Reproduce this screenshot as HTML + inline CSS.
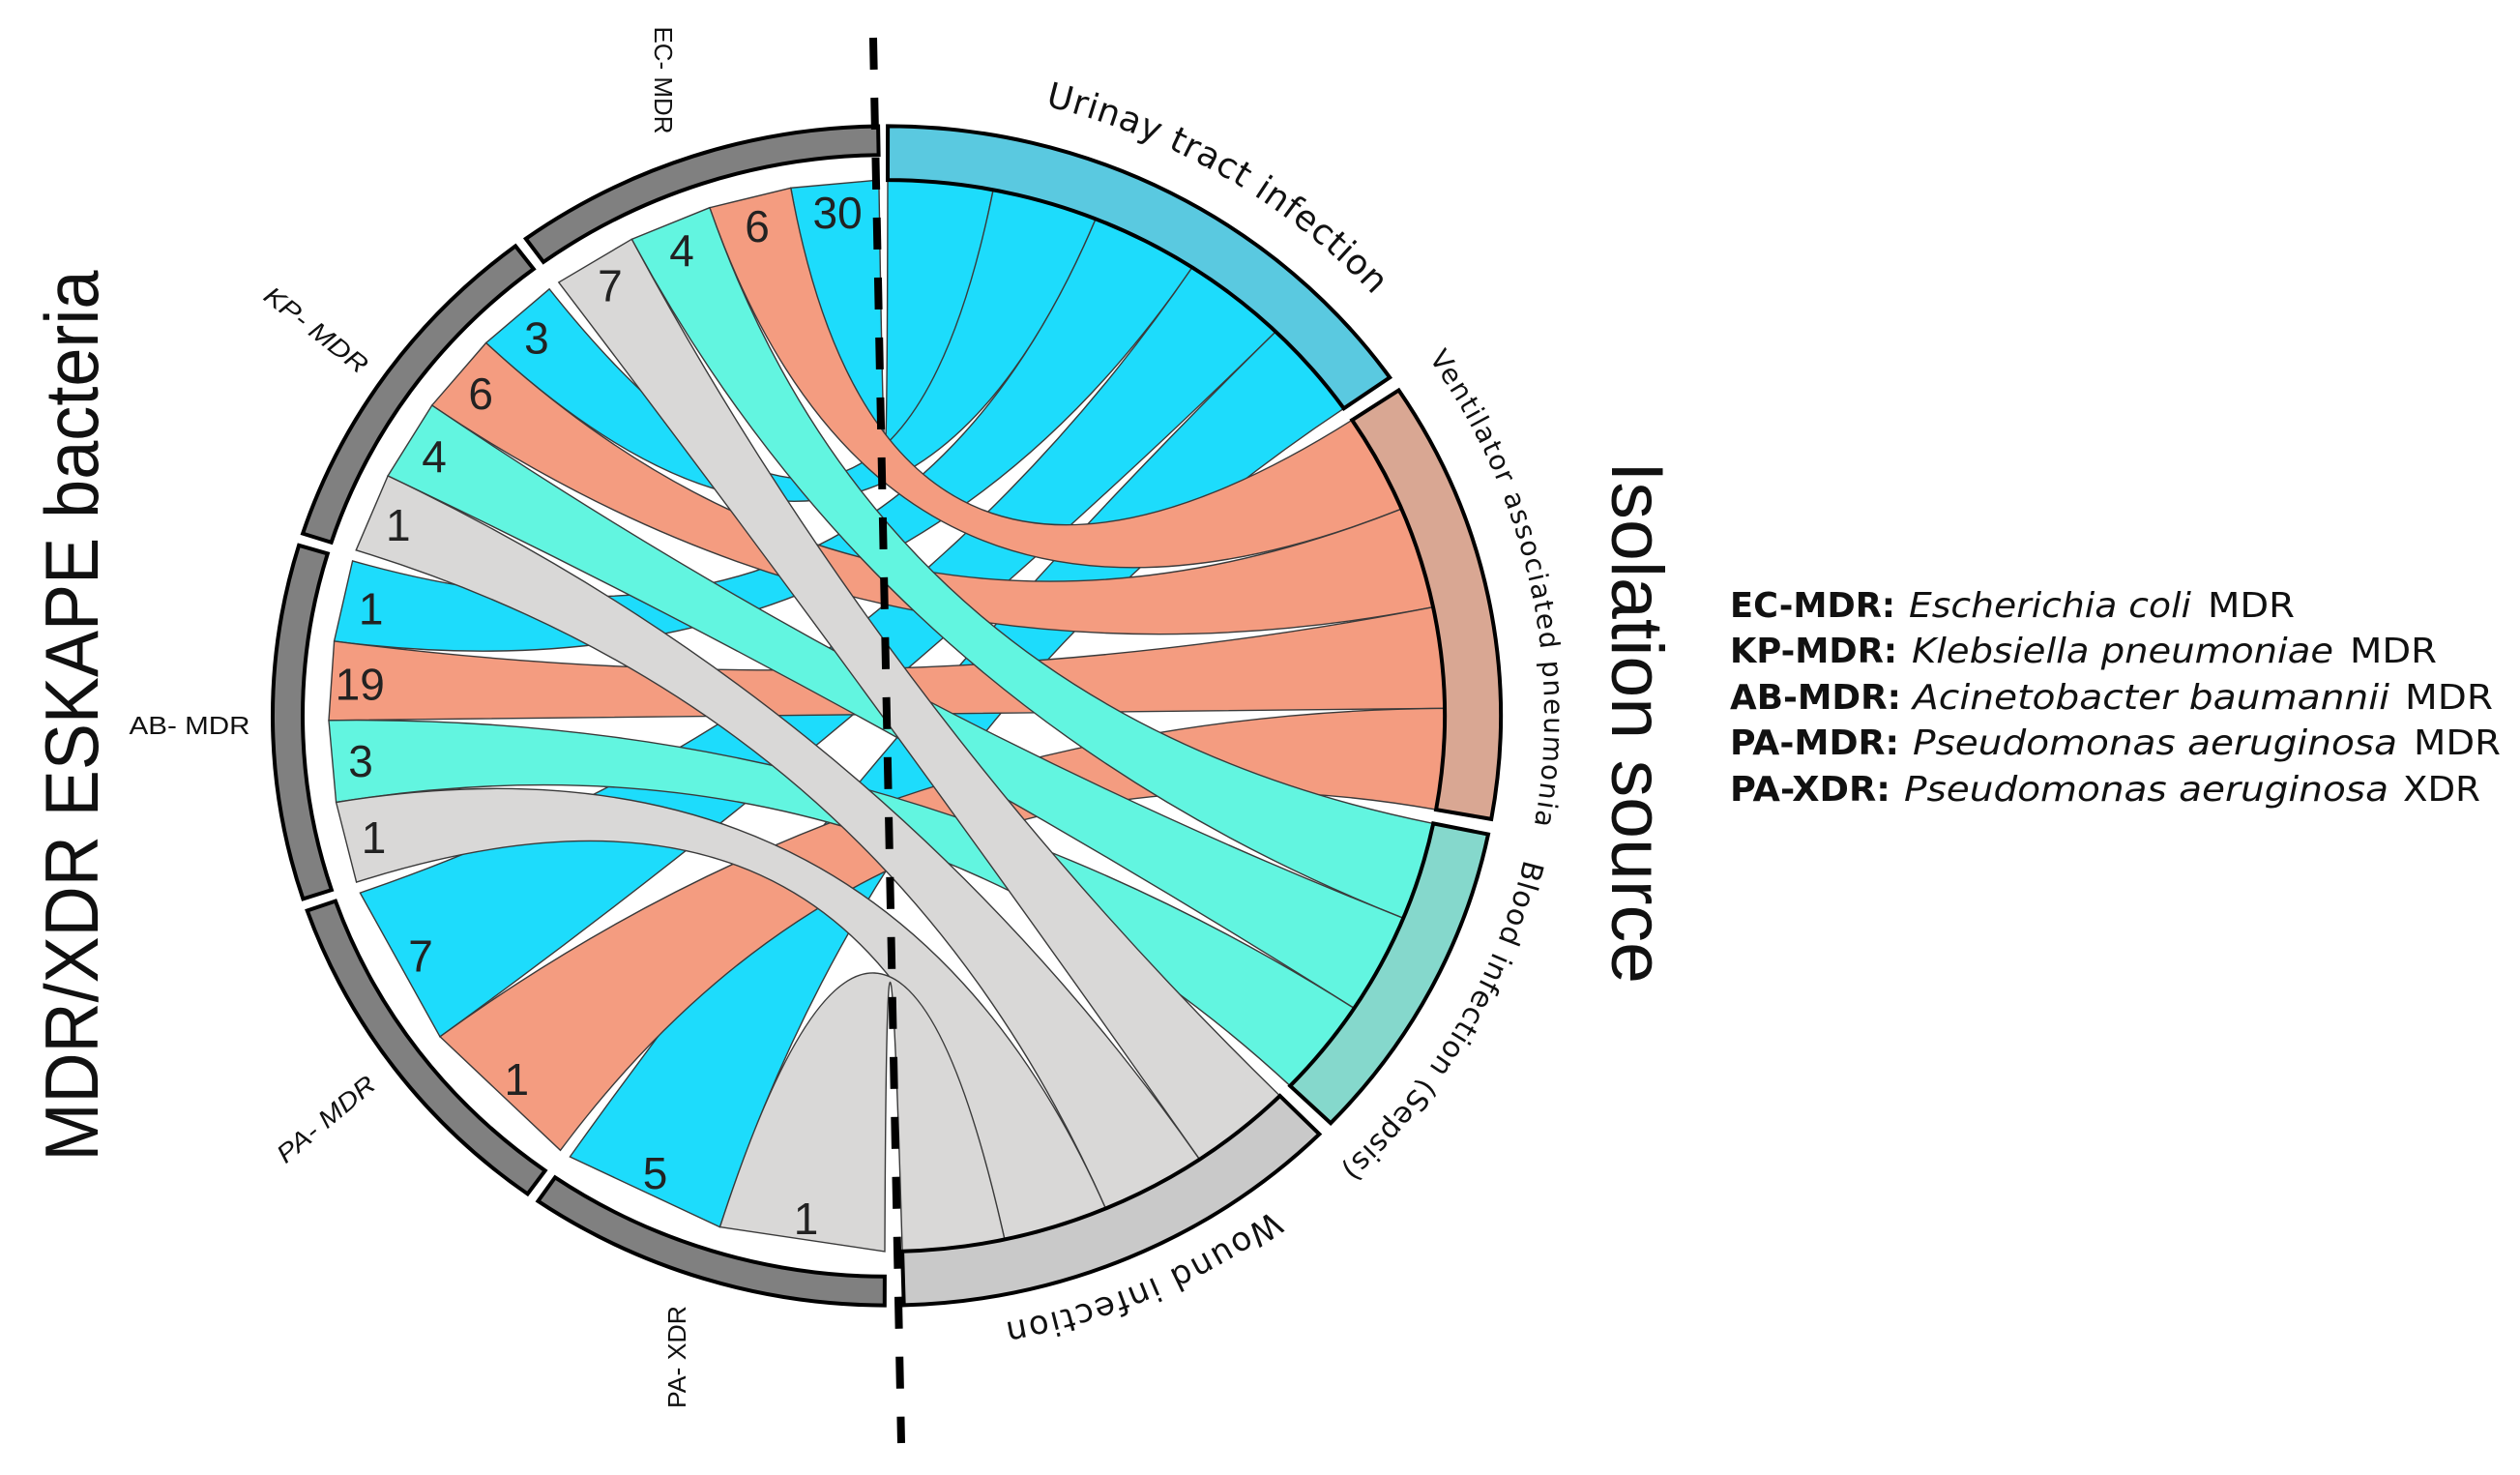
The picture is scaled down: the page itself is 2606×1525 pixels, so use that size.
<!DOCTYPE html>
<html lang="en">
<head>
<meta charset="utf-8">
<title>MDR/XDR ESKAPE bacteria by isolation source</title>
<style>
html,body{margin:0;padding:0;background:#fff;}
svg{display:block;}
text{font-family:"DejaVu Sans","Liberation Sans",sans-serif;fill:#111;}
.small{font-family:"Liberation Sans",sans-serif;font-size:26px;}
.count{font-family:"Liberation Sans",sans-serif;font-size:46px;text-anchor:middle;fill:#222;}
.legend{font-size:36px;}
</style>
</head>
<body>
<svg id="chart" xmlns="http://www.w3.org/2000/svg" width="2606" height="1525" viewBox="0 0 2606 1525">
  <rect x="0" y="0" width="2606" height="1525" fill="#ffffff"/>
  <g id="ribbons"></g>
  <g id="rings"></g>
  <g id="counts"></g>

  <defs>
    <path id="path-urinary"/>
    <path id="path-ventilator"/>
    <path id="path-blood"/>
    <path id="path-wound"/>
  </defs>
  <text class="arc-label" font-size="36"><textPath href="#path-urinary">Urinay tract infection</textPath></text>
  <text class="arc-label" font-size="28"><textPath href="#path-ventilator">Ventilator associated pneumonia</textPath></text>
  <text class="arc-label" font-size="30"><textPath href="#path-blood">Blood infection (Sepsis)</textPath></text>
  <text class="arc-label" font-size="34"><textPath href="#path-wound">Wound infection</textPath></text>

  <text class="small" text-anchor="middle" textLength="111" lengthAdjust="spacingAndGlyphs" transform="translate(686,83) rotate(90) translate(0,9)">EC- MDR</text>
  <text class="small" font-style="italic" text-anchor="middle" textLength="128" lengthAdjust="spacingAndGlyphs" transform="translate(327,341) rotate(38) translate(0,9)">KP- MDR</text>
  <text class="small" text-anchor="middle" textLength="125" lengthAdjust="spacingAndGlyphs" transform="translate(196,750) translate(0,9)">AB- MDR</text>
  <text class="small" font-style="italic" text-anchor="middle" textLength="124" lengthAdjust="spacingAndGlyphs" transform="translate(337,1157) rotate(-40) translate(0,9)">PA- MDR</text>
  <text class="small" text-anchor="middle" textLength="106" lengthAdjust="spacingAndGlyphs" transform="translate(700,1403) rotate(-90) translate(0,9)">PA- XDR</text>

  <text font-size="78" text-anchor="middle" textLength="921" lengthAdjust="spacingAndGlyphs" transform="translate(101,740) rotate(-90)" style="font-family:'Liberation Sans',sans-serif">MDR/XDR ESKAPE bacteria</text>
  <text font-size="76" text-anchor="middle" textLength="540" lengthAdjust="spacingAndGlyphs" transform="translate(1667,747) rotate(90)" style="font-family:'Liberation Sans',sans-serif">Isolation source</text>

  <g>
    <g>
      <text class="legend" x="1789" y="638" font-weight="bold" textLength="171" lengthAdjust="spacingAndGlyphs">EC-MDR:</text>
      <text class="legend" x="1974" y="638" font-style="italic" textLength="292" lengthAdjust="spacingAndGlyphs">Escherichia coli</text>
      <text class="legend" x="2283" y="638" textLength="90" lengthAdjust="spacingAndGlyphs">MDR</text>
    </g>
    <g>
      <text class="legend" x="1789" y="685" font-weight="bold" textLength="173" lengthAdjust="spacingAndGlyphs">KP-MDR:</text>
      <text class="legend" x="1977" y="685" font-style="italic" textLength="436" lengthAdjust="spacingAndGlyphs">Klebsiella pneumoniae</text>
      <text class="legend" x="2430" y="685" textLength="90" lengthAdjust="spacingAndGlyphs">MDR</text>
    </g>
    <g>
      <text class="legend" x="1789" y="733" font-weight="bold" textLength="177" lengthAdjust="spacingAndGlyphs">AB-MDR:</text>
      <text class="legend" x="1978" y="733" font-style="italic" textLength="493" lengthAdjust="spacingAndGlyphs">Acinetobacter baumannii</text>
      <text class="legend" x="2487" y="733" textLength="91" lengthAdjust="spacingAndGlyphs">MDR</text>
    </g>
    <g>
      <text class="legend" x="1789" y="780" font-weight="bold" textLength="175" lengthAdjust="spacingAndGlyphs">PA-MDR:</text>
      <text class="legend" x="1978" y="780" font-style="italic" textLength="501" lengthAdjust="spacingAndGlyphs">Pseudomonas aeruginosa</text>
      <text class="legend" x="2496" y="780" textLength="90" lengthAdjust="spacingAndGlyphs">MDR</text>
    </g>
    <g>
      <text class="legend" x="1789" y="828" font-weight="bold" textLength="166" lengthAdjust="spacingAndGlyphs">PA-XDR:</text>
      <text class="legend" x="1969" y="828" font-style="italic" textLength="501" lengthAdjust="spacingAndGlyphs">Pseudomonas aeruginosa</text>
      <text class="legend" x="2485" y="828" textLength="80" lengthAdjust="spacingAndGlyphs">XDR</text>
    </g>
  </g>

  <line x1="903" y1="39" x2="932" y2="1492" stroke="#000" stroke-width="8" stroke-dasharray="33 29"/>
</svg>

<script>
// ---- chart data ----
// source sectors, going counter-clockwise from the top
const sourceNames = ['ec-mdr', 'kp-mdr', 'ab-mdr', 'pa-mdr', 'pa-xdr'];
// printed counts on each ribbon
const sourceCounts = [[30, 6, 4, 7], [3, 6, 4, 1], [1, 19, 3, 1], [7, 1], [5, 1]];
// which target sector each ribbon goes to
const sourceTargets = [[0, 1, 2, 3], [0, 1, 2, 3], [0, 1, 2, 3], [0, 1], [0, 3]];
// drawn ribbon width at the source end (degrees of arc)
const sourceWidths = [[9.1, 8.6, 8.7, 8.8], [8.7, 8.7, 8.8, 8.6], [8.8, 8.5, 8.8, 8.8], [17.5, 17.4], [17.2, 17.2]];
// target sectors, going clockwise from the top
const targetNames = ['urinary-tract-infection', 'ventilator-pneumonia', 'blood-infection', 'wound-infection'];
// drawn ribbon width at the target end (degrees of arc)
const targetWidths = [[10.9, 11, 11.2, 11, 10.8], [10.8, 11, 10.9, 10.9], [10.6, 10.9, 10.6], [10.7, 11, 10.9, 10.6]];
const targetRingColors = ['#5ac9e0', '#d9a793', '#85d8cc', '#c9c9c9'];
const ribbonColors = ['#1ddcfc', '#f49c80', '#62f5e0', '#d9d8d7'];

// ---- geometry ----
const cx = 917, cy = 740, ky = 0.96;
const controlY = 737;
const rChord = 577, rSourceIn = 604, rOuter = 635, rCount = 546;
const sourceStart = 0.8, sourceGap = 1.2, targetStart = 0.1, targetGap = 1.5;
const svgNS = 'http://www.w3.org/2000/svg';

function pt(deg, r) {
  const a = deg * Math.PI / 180;
  return [cx + r * Math.sin(a), cy - ky * r * Math.cos(a)];
}
function fmt(p) { return p[0].toFixed(1) + ' ' + p[1].toFixed(1); }
function arcTo(deg, r, sweep) {
  return 'A' + r + ' ' + (r * ky).toFixed(1) + ' 0 0 ' + sweep + ' ' + fmt(pt(deg, r));
}
function ringPath(a, b, rIn, rOut) {
  const sw = b > a ? 1 : 0, back = b > a ? 0 : 1;
  return 'M' + fmt(pt(a, rOut)) + arcTo(b, rOut, sw) + 'L' + fmt(pt(b, rIn)) + arcTo(a, rIn, back) + 'Z';
}

// lay out target slots
const targetSlots = [];
const targetSpans = [];
let tAngle = targetStart;
targetWidths.forEach(function (widths) {
  const begin = tAngle;
  const slots = widths.map(function (w) {
    const s = [tAngle, tAngle + w];
    tAngle += w;
    return s;
  });
  targetSlots.push(slots);
  targetSpans.push([begin, tAngle]);
  tAngle += targetGap;
});

// lay out source ends and ribbons
const nextSlot = targetWidths.map(function () { return 0; });
const ribbonList = [];
const sourceSpans = [];
let sAngle = sourceStart;
sourceWidths.forEach(function (widths, si) {
  const begin = sAngle;
  widths.forEach(function (w, li) {
    const tIdx = sourceTargets[si][li];
    const slot = targetSlots[tIdx][nextSlot[tIdx]];
    nextSlot[tIdx] += 1;
    ribbonList.push({ si: si, li: li, tIdx: tIdx, s0: sAngle, s1: sAngle + w, t0: slot[0], t1: slot[1] });
    sAngle += w;
  });
  sourceSpans.push([begin, sAngle]);
  sAngle += sourceGap;
});

// draw ribbons: blue, salmon, teal, grey
const ribbonsG = document.getElementById('ribbons');
const countsG = document.getElementById('counts');
const ctrl = cx.toFixed(1) + ' ' + controlY;
[0, 1, 2, 3].forEach(function (tIdx) {
  ribbonList.filter(function (r) { return r.tIdx === tIdx; }).forEach(function (r) {
    const el = document.createElementNS(svgNS, 'path');
    
    
    const d = 'M' + fmt(pt(-r.s0, rChord)) +
      'L' + fmt(pt(-r.s1, rChord)) +
      'Q' + ctrl + ' ' + fmt(pt(r.t1, rChord)) +
      arcTo(r.t0, rChord, 0) +
      'Q' + ctrl + ' ' + fmt(pt(-r.s0, rChord)) + 'Z';
    el.setAttribute('d', d);
    el.setAttribute('fill', ribbonColors[tIdx]);
    el.setAttribute('stroke', '#3a3a3a');
    el.setAttribute('stroke-width', '1.4');
    ribbonsG.appendChild(el);
  });
});

// printed counts
ribbonList.forEach(function (r) {
  const p = pt(-(r.s0 + r.s1) / 2, rCount);
  const t = document.createElementNS(svgNS, 'text');
  
  
  t.setAttribute('class', 'count');
  t.setAttribute('x', p[0].toFixed(1));
  t.setAttribute('y', (p[1] + 18).toFixed(1));
  t.textContent = String(sourceCounts[r.si][r.li]);
  countsG.appendChild(t);
});

// rings
const ringsG = document.getElementById('rings');
sourceSpans.forEach(function (span, i) {
  const el = document.createElementNS(svgNS, 'path');
  
  
  el.setAttribute('d', ringPath(-span[0], -span[1], rSourceIn, rOuter));
  el.setAttribute('fill', '#808080');
  el.setAttribute('stroke', '#000');
  el.setAttribute('stroke-width', '4');
  ringsG.appendChild(el);
});
targetSpans.forEach(function (span, i) {
  const el = document.createElementNS(svgNS, 'path');
  
  
  el.setAttribute('d', ringPath(span[0], span[1], rChord, rOuter));
  el.setAttribute('fill', targetRingColors[i]);
  el.setAttribute('stroke', '#000');
  el.setAttribute('stroke-width', '4');
  ringsG.appendChild(el);
});

// curved sector labels: [path id, radius, start angle, end angle]
const arcLabelPaths = [
  ['path-urinary', 677, 14, 47.7],
  ['path-ventilator', 680, 55.5, 98.5],
  ['path-blood', 677, 103.2, 135.2],
  ['path-wound', 665, 143.2, 169.4]
];
arcLabelPaths.forEach(function (a) {
  const r = a[1];
  document.getElementById(a[0]).setAttribute('d', 'M' + fmt(pt(a[2], r)) + arcTo(a[3] + 8, r, 1));
});
document.querySelectorAll('.arc-label').forEach(function (t, i) {
  const a = arcLabelPaths[i];
  const target = a[1] * (a[3] - a[2]) * Math.PI / 180;
  const len = t.getComputedTextLength();
  const n = t.textContent.length;
  t.style.letterSpacing = ((target - len) / n).toFixed(2) + 'px';
});
</script>
</body>
</html>
